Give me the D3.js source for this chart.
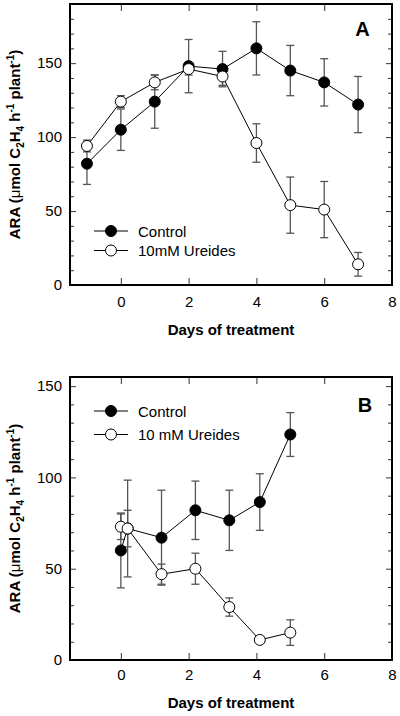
<!DOCTYPE html>
<html><head><meta charset="utf-8">
<script src="https://cdn.jsdelivr.net/npm/d3@7"></script>
<style>
html,body{margin:0;padding:0;background:#fff;}
svg{display:block;font-family:"Liberation Sans",Arial,sans-serif;}
</style></head>
<body>
<svg id="chart" width="400" height="716"></svg>
<script>
// ---- Data ----
const xTicks = [0, 2, 4, 6, 8];

// Panel A
const daysA = [-1, 0, 1, 2, 3, 4, 5, 6, 7];
const controlA = [82, 105, 124, 148, 146, 160, 145, 137, 122];
const controlAErr = [14, 14, 18, 18, 12, 18, 17, 16, 19];
const ureidesA = [94, 124, 137, 146, 141, 96, 54, 51, 14];
const ureidesAErr = [4, 4, 5, 4, 6, 13, 19, 19, 8];
const yTicksA = [0, 50, 100, 150];
const legendA = ["Control", "10mM Ureides"];

// Panel B
const daysBControl = [0, 0.2, 1.2, 2.2, 3.2, 4.1, 5];
const controlB = [60, 72, 67, 82, 76.5, 86.5, 123.5];
const controlBErr = [20.5, 26.5, 26, 16, 16.5, 15.5, 12];
const daysBUreides = [0, 0.2, 1.2, 2.2, 3.2, 4.1, 5];
const ureidesB = [73, 72, 47, 50, 29, 11, 15];
const ureidesBErr = [7, 10, 5.5, 8.5, 5, 0, 7];
const yTicksB = [0, 50, 100, 150];
const legendB = ["Control", "10 mM Ureides"];

// ---- Drawing ----
const svg = d3.select("#chart");
const FONT = "Liberation Sans, Arial, sans-serif";

function panel(cfg) {
  const {left, right, top, bottom, yMax, letter, letterPos, legend, legendY,
         series, yTicks, tickLabelPad, xLabelY} = cfg;
  const x = d3.scaleLinear().domain([-1.5, 8]).range([left, right]);
  const y = d3.scaleLinear().domain([0, yMax]).range([bottom, top]);
  const g = svg.append("g");

  const minor = d3.range(10, yMax, 10).filter(v => v % 50 !== 0);

  // left major
  const la = g.append("g").attr("transform", `translate(${left},0)`)
    .call(d3.axisLeft(y).tickValues(yTicks).tickSize(-6).tickPadding(8));
  // left minor
  g.append("g").attr("transform", `translate(${left},0)`)
    .call(d3.axisLeft(y).tickValues(minor).tickSize(-4).tickFormat(""));
  // right major + minor
  g.append("g").attr("transform", `translate(${right},0)`)
    .call(d3.axisRight(y).tickValues(yTicks).tickSize(-6).tickFormat(""));
  g.append("g").attr("transform", `translate(${right},0)`)
    .call(d3.axisRight(y).tickValues(minor).tickSize(-4).tickFormat(""));
  // bottom
  g.append("g").attr("transform", `translate(0,${bottom})`)
    .call(d3.axisBottom(x).tickValues(xTicks).tickSize(-7).tickPadding(tickLabelPad));
  // top
  g.append("g").attr("transform", `translate(0,${top})`)
    .call(d3.axisTop(x).tickValues(xTicks).tickSize(-7).tickFormat(""));

  g.selectAll(".domain").remove();
  g.selectAll(".tick line").attr("stroke", "#333").attr("stroke-width", 1);
  g.selectAll(".tick text").attr("font-family", FONT).attr("font-size", 15).attr("fill", "#000");

  // frame
  g.append("rect").attr("x", left).attr("y", top)
    .attr("width", right - left).attr("height", bottom - top)
    .attr("fill", "none").attr("stroke", "#000").attr("stroke-width", 2);

  // series
  const line = d3.line().x(d => x(d.x)).y(d => y(d.v));
  series.forEach(s => {
    const pts = s.days.map((d, i) => ({x: d, v: s.vals[i], e: s.errs[i]}));
    // error bars
    const eb = g.append("g").attr("stroke", "#555").attr("stroke-width", 1.3);
    pts.filter(p => p.e > 0).forEach(p => {
      eb.append("line").attr("x1", x(p.x)).attr("x2", x(p.x))
        .attr("y1", y(p.v - p.e)).attr("y2", y(p.v + p.e));
      [p.v - p.e, p.v + p.e].forEach(v => {
        eb.append("line").attr("x1", x(p.x) - 4).attr("x2", x(p.x) + 4)
          .attr("y1", y(v)).attr("y2", y(v));
      });
    });
  });
  series.forEach(s => {
    const pts = s.days.map((d, i) => ({x: d, v: s.vals[i]}));
    g.append("path").datum(pts).attr("d", line)
      .attr("fill", "none").attr("stroke", "#000").attr("stroke-width", 1);
    g.selectAll(null).data(pts).enter().append("circle")
      .attr("cx", d => x(d.x)).attr("cy", d => y(d.v)).attr("r", 5.5)
      .attr("fill", s.filled ? "#000" : "#fff")
      .attr("stroke", "#000").attr("stroke-width", 1);
  });

  // legend
  legend.forEach((name, i) => {
    const ly = legendY[i];
    g.append("line").attr("x1", 94).attr("x2", 128).attr("y1", ly).attr("y2", ly)
      .attr("stroke", "#000").attr("stroke-width", 1);
    g.append("circle").attr("cx", 111).attr("cy", ly).attr("r", 5.5)
      .attr("fill", i === 0 ? "#000" : "#fff").attr("stroke", "#000");
    g.append("text").attr("x", 138).attr("y", ly + 5.5)
      .attr("font-family", FONT).attr("font-size", 15).text(name);
  });

  // panel letter
  g.append("text").attr("x", letterPos[0]).attr("y", letterPos[1])
    .attr("text-anchor", "middle").attr("font-family", FONT)
    .attr("font-size", 20).attr("font-weight", "bold").text(letter);

  // x label
  g.append("text").attr("x", (left + right) / 2).attr("y", xLabelY)
    .attr("text-anchor", "middle").attr("font-family", FONT)
    .attr("font-size", 15).attr("font-weight", "bold").text("Days of treatment");

  // y label
  const yl = g.append("text")
    .attr("transform", `translate(19.5,${(top + bottom) / 2}) rotate(-90)`)
    .attr("text-anchor", "middle").attr("font-family", FONT)
    .attr("font-size", 15).attr("font-weight", "bold");
  yl.append("tspan").text("ARA (");
  yl.append("tspan").attr("font-weight", "normal").text("\u03BC");
  yl.append("tspan").text("mol C");
  yl.append("tspan").attr("font-size", 10).attr("dy", 4).text("2");
  yl.append("tspan").attr("dy", -4).text("H");
  yl.append("tspan").attr("font-size", 10).attr("dy", 4).text("4");
  yl.append("tspan").attr("dy", -4).text(" h");
  yl.append("tspan").attr("font-size", 10).attr("dy", -6).text("-1");
  yl.append("tspan").attr("dy", 6).text(" plant");
  yl.append("tspan").attr("font-size", 10).attr("dy", -6).text("-1");
  yl.append("tspan").attr("dy", 6).text(")");
}

panel({
  left: 70, right: 392, top: 4, bottom: 285, yMax: 190,
  letter: "A", letterPos: [362.5, 36],
  legend: legendA, legendY: [231, 250.5],
  yTicks: yTicksA, tickLabelPad: 11, xLabelY: 335,
  series: [
    {days: daysA, vals: controlA, errs: controlAErr, filled: true},
    {days: daysA, vals: ureidesA, errs: ureidesAErr, filled: false}
  ]
});

panel({
  left: 70, right: 392, top: 377, bottom: 660, yMax: 155,
  letter: "B", letterPos: [365, 411.5],
  legend: legendB, legendY: [411, 434.5],
  yTicks: yTicksB, tickLabelPad: 9, xLabelY: 708,
  series: [
    {days: daysBControl, vals: controlB, errs: controlBErr, filled: true},
    {days: daysBUreides, vals: ureidesB, errs: ureidesBErr, filled: false}
  ]
});
</script>
</body></html>
